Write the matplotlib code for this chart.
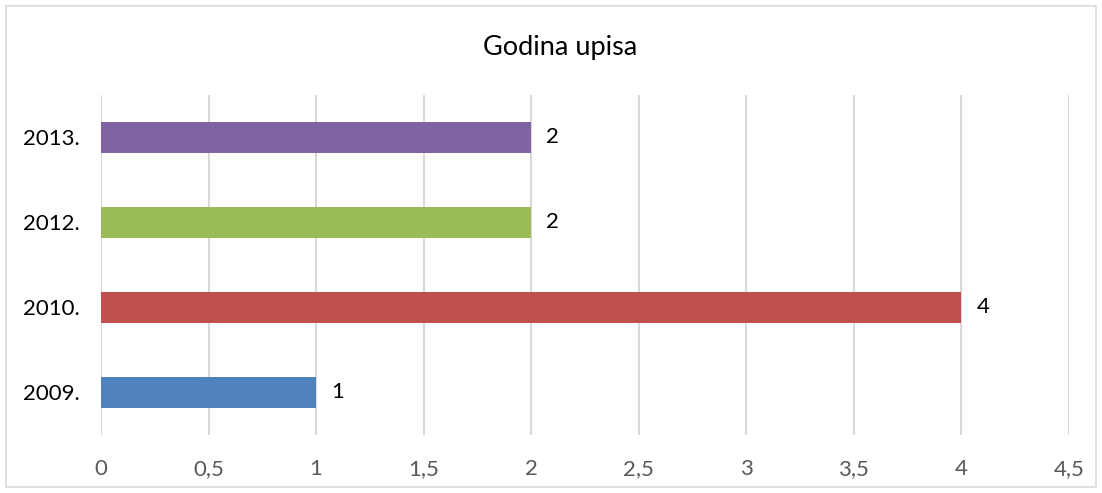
import matplotlib
matplotlib.use("Agg")
import matplotlib.pyplot as plt
from matplotlib.patches import Rectangle

categories = ["2009.", "2010.", "2012.", "2013."]
values = [1, 4, 2, 2]
colors = ["#4F81BD", "#C0504D", "#9BBB59", "#8064A2"]
xticks = [0, 0.5, 1, 1.5, 2, 2.5, 3, 3.5, 4, 4.5]
xtick_labels = ["0", "0,5", "1", "1,5", "2", "2,5", "3", "3,5", "4", "4,5"]
title = "Godina upisa"

plt.rcParams['font.family'] = ['Lato', 'DejaVu Sans']

fig = plt.figure(figsize=(11.02, 4.93), dpi=100)
fig.patches.append(Rectangle((6/1102, 6/493), 1 - 12/1102, 1 - 12/493,
                             transform=fig.transFigure, fill=False,
                             edgecolor="#D9D9D9", linewidth=1.2))
ax = fig.add_axes([101/1102, 1 - 435/493, (1069 - 101)/1102, (435 - 95)/493])

ypos = list(range(len(categories)))
ax.barh(ypos, values, height=0.36, color=colors, zorder=3)
for y, v in zip(ypos, values):
    ax.text(v + 0.07, y, str(v), va="center", ha="left", fontsize=16, color="black")

ax.set_xlim(0, 4.5)
ax.set_ylim(-0.5, len(categories) - 0.5)
ax.set_xticks(xticks)
ax.set_xticklabels(xtick_labels, color="#595959", fontsize=16)
ax.set_yticks(ypos)
ax.set_yticklabels(categories, fontsize=16, color="black")
ax.tick_params(axis="both", length=0)
ax.tick_params(axis="x", pad=17)
ax.tick_params(axis="y", pad=15)
ax.grid(axis="x", color="#D9D9D9", linewidth=1.5, zorder=0)
for s in ax.spines.values():
    s.set_visible(False)

fig.text(560/1102, 1 - 47/493, title, ha="center", va="center", fontsize=19.5, color="black")

fig.savefig("out.png", dpi=100)
